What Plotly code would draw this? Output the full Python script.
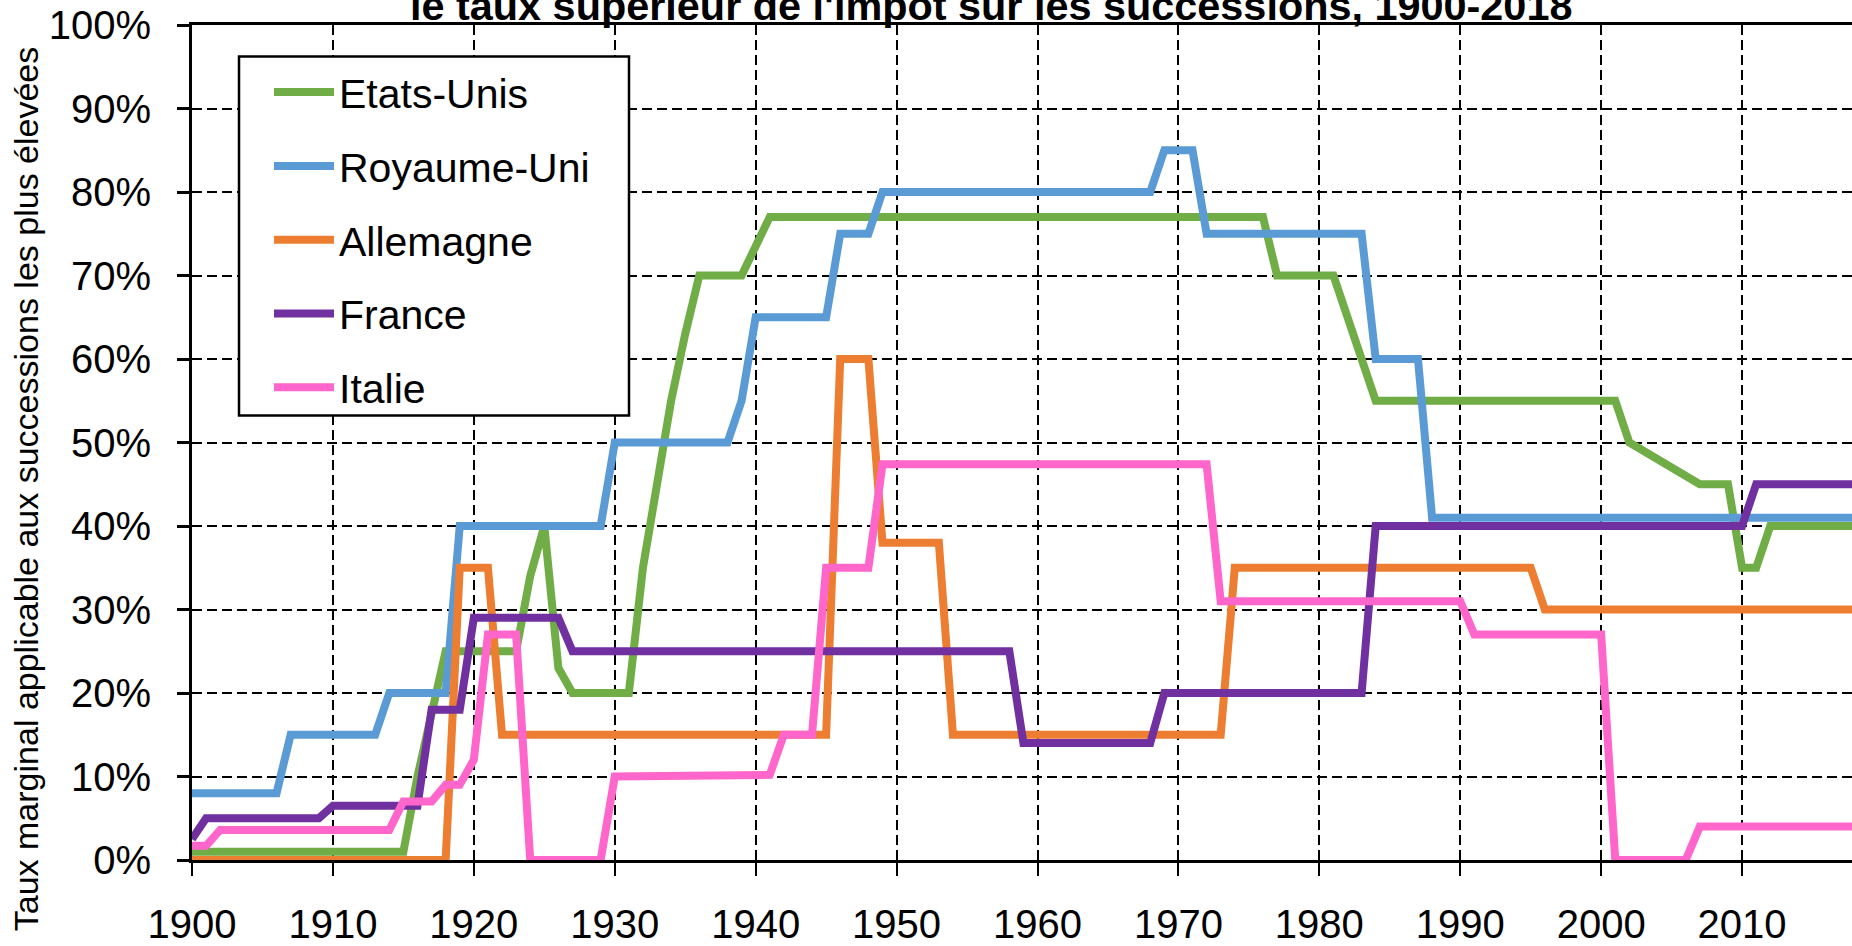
import plotly.graph_objects as go

# ---------------- data ----------------
years = list(range(1900, 2019))

etats_unis = (
    [1] * 16 + [10, 18] + [25] * 6 + [34, 40, 23] + [20] * 5 +
    [35, 45, 55, 63] + [70] * 4 + [73.5] + [77] * 36 + [70] * 5 +
    [65, 60] + [55] * 18 + [50, 49, 48, 47, 46] + [45] * 3 + [35] * 2 + [40] * 7
)
royaume_uni = (
    [8] * 7 + [15] * 7 + [20] * 5 + [40] * 11 + [50] * 9 + [55] + [65] * 6 +
    [75] * 3 + [80] * 20 + [85] * 3 + [75] * 12 + [60] * 4 + [41] * 31
)
allemagne = (
    [0] * 19 + [35] * 3 + [15] * 24 + [60] * 3 + [38] * 5 + [15] * 20 +
    [35] * 22 + [30] * 23
)
france = (
    [2.5] + [5] * 9 + [6.5] * 7 + [18] * 3 + [29] * 7 + [25] * 32 + [14] * 10 +
    [20] * 15 + [40] * 27 + [45] * 8
)
italie = (
    [1.7] * 2 + [3.6] * 13 + [7] * 3 + [9] * 2 + [12] + [27] * 3 + [0] * 6 +
    [10] * 8 + [10.2] * 4 + [15] * 3 + [35] * 4 + [47.4] * 24 + [31] * 18 +
    [27] * 10 + [0] * 6 + [4] * 12
)

series_names = ["Etats-Unis", "Royaume-Uni", "Allemagne", "France", "Italie"]
series_values = [etats_unis, royaume_uni, allemagne, france, italie]
series_colors = ["#70AD47", "#5B9BD5", "#ED7D31", "#7030A0", "#FF66CC"]

y_ticks = list(range(0, 101, 10))
y_tick_labels = [f"{v}%" for v in y_ticks]
x_ticks = list(range(1900, 2020, 10))
x_tick_labels = [str(v) for v in x_ticks]

title_text = "le taux supérieur de l'impôt sur les successions, 1900-2018"
y_title_text = "Taux marginal applicable aux successions les plus élevées"

# ---------------- layout geometry ----------------
W, H = 1852, 946
ML, MR, MT, MB = 192, 0, 25, 72
PW, PH = W - ML - MR, H - MT - MB
FONT = "Arial, 'Liberation Sans', sans-serif"


def px_x(px):
    return (px - ML) / PW


def px_y(py):
    return (H - MB - py) / PH


fig = go.Figure()
for name, vals, color in zip(series_names, series_values, series_colors):
    fig.add_trace(go.Scatter(
        x=years, y=vals, name=name, mode="lines", legendgroup=name,
        line=dict(color=color, width=8),
    ))

fig.update_layout(
    width=W, height=H,
    margin=dict(l=ML, r=MR, t=MT, b=MB, pad=0),
    paper_bgcolor="white", plot_bgcolor="white",
    font=dict(family=FONT, color="black", size=40),
    showlegend=True,
    legend=dict(
        x=px_x(269), y=px_y(59.5), xanchor="left", yanchor="top",
        bgcolor="rgba(0,0,0,0)", borderwidth=0,
        font=dict(family=FONT, size=41, color="black"),
        tracegroupgap=17.5, itemwidth=60,
    ),
)

# legend frame
fig.add_shape(
    type="rect", xref="paper", yref="paper",
    x0=px_x(239), x1=px_x(629), y0=px_y(422), y1=px_y(57),
    line=dict(color="black", width=2.5), fillcolor="white", layer="above",
)

fig.update_xaxes(
    range=[1900, 2017.8], tickvals=x_ticks, ticktext=x_tick_labels,
    showgrid=True, gridcolor="black", gridwidth=2, griddash="10px,5px",
    showline=True, linecolor="black", linewidth=3, mirror=True,
    ticks="outside", ticklen=13, tickwidth=1.5, tickcolor="black",
    tickfont=dict(family=FONT, size=40, color="black"),
    zeroline=False, ticklabelstandoff=14,
)
fig.update_yaxes(
    range=[0, 100], tickvals=y_ticks, ticktext=y_tick_labels,
    showgrid=True, gridcolor="black", gridwidth=2, griddash="10px,5px",
    showline=True, linecolor="black", linewidth=3,
    ticks="outside", ticklen=12, tickwidth=3, tickcolor="black",
    tickfont=dict(family=FONT, size=40, color="black"),
    zeroline=False, ticklabelstandoff=18,
)

fig.add_annotation(
    text="<b>" + title_text + "</b>", xref="paper", yref="paper",
    x=px_x(991), y=px_y(31), xanchor="center", yanchor="bottom",
    showarrow=False, font=dict(family=FONT, size=41.4, color="black"),
)
fig.add_annotation(
    text=y_title_text, xref="paper", yref="paper",
    x=px_x(26), y=px_y(497), xanchor="center", yanchor="middle",
    textangle=-90, showarrow=False,
    font=dict(family=FONT, size=34, color="black"),
)

fig.write_html(
    "out.html",
    config={"displayModeBar": False},
    post_script="document.body.style.margin='0';document.body.style.overflow='hidden';",
)
